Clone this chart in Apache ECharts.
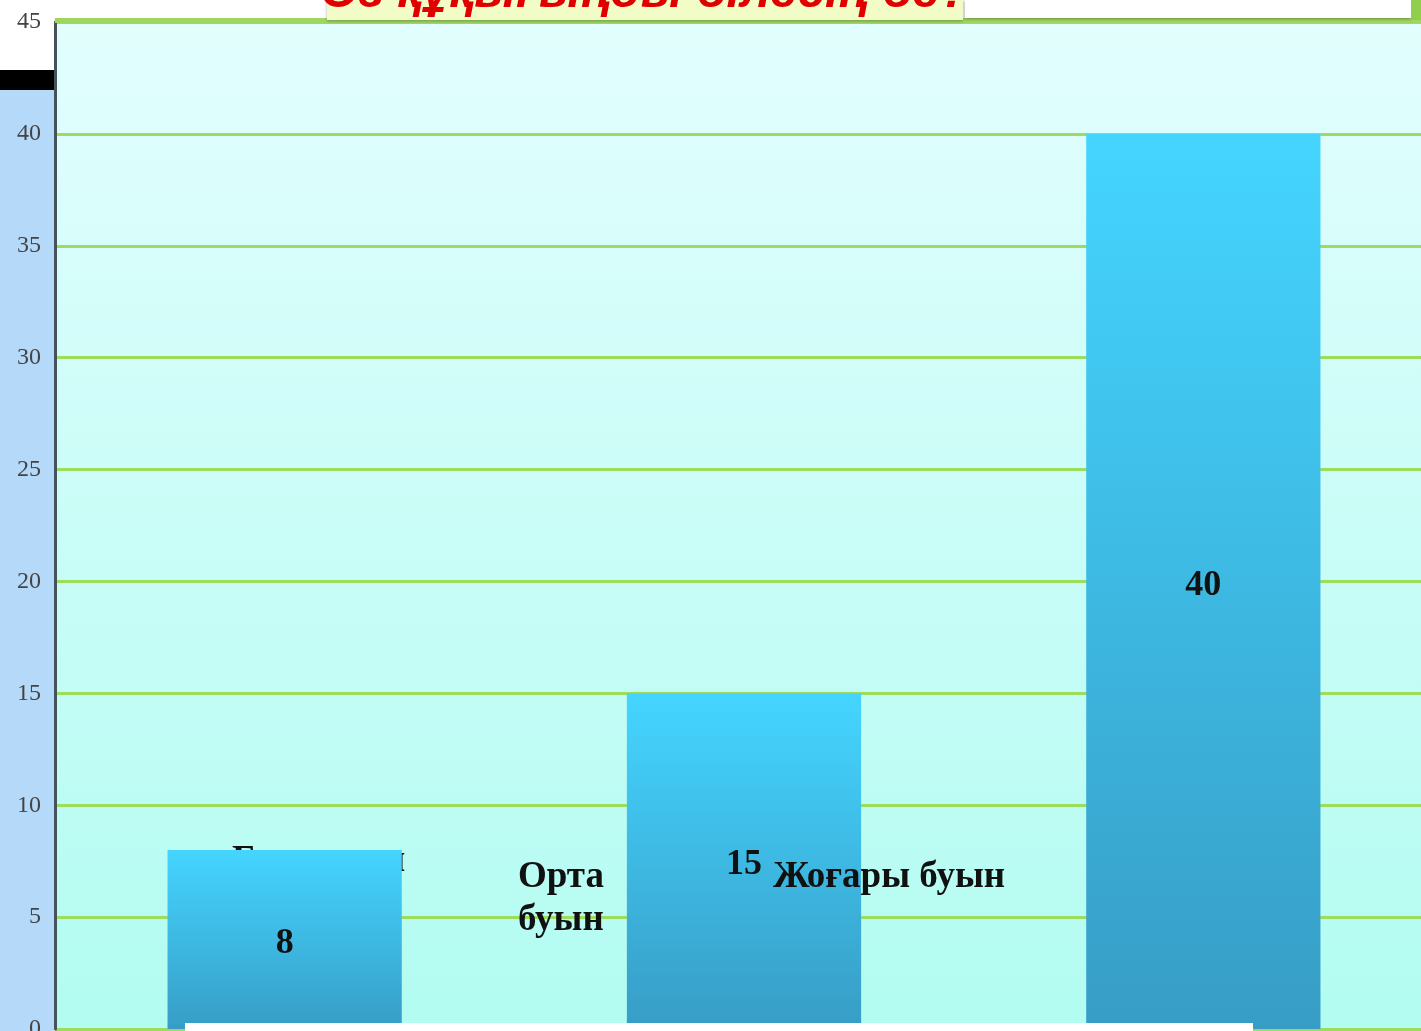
<!DOCTYPE html>
<html>
<head>
<meta charset="utf-8">
<script src="https://cdn.jsdelivr.net/npm/echarts@6/dist/echarts.min.js"></script>
<style>
html,body{margin:0;padding:0;background:#fff;}
#c{width:1421px;height:1031px;}
</style>
</head>
<body>
<div id="c"></div>
<script>
const titleText = 'Өз құқығыңды білесің бе?';
const categories = ['Бастауыш\nбуын', 'Орта\nбуын', 'Жоғары буын'];
const values = [8, 15, 40];
const yMin = 0, yMax = 45, yInterval = 5;

const chart = echarts.init(document.getElementById('c'));
const serifFamily = '"Liberation Serif", "DejaVu Serif", serif';
const serifBold = 'bold 37px "Liberation Serif", "DejaVu Serif", serif';

const option = {
  backgroundColor: '#ffffff',
  animation: false,
  grid: { left: 55, top: 22, width: 1378, height: 1007, outerBoundsMode: 'none', containLabel: false, show: false },
  xAxis: {
    type: 'category', data: categories,
    axisLine: { show: false }, axisTick: { show: false }, axisLabel: { show: false }, splitLine: { show: false }
  },
  yAxis: {
    type: 'value', min: yMin, max: yMax, interval: yInterval,
    axisLine: { show: true, lineStyle: { color: '#44545a', width: 3 } },
    axisTick: { show: false },
    axisLabel: { color: '#444', fontFamily: serifFamily, fontSize: 24, margin: 14 },
    splitLine: { show: true, lineStyle: { color: '#9edc5c', width: 3 } }
  },
  series: [{
    type: 'bar', data: values, barWidth: '51%', z: 5,
    itemStyle: {
      color: { type: 'linear', x: 0, y: 0, x2: 0, y2: 1, colorStops: [
        { offset: 0, color: '#44d5ff' }, { offset: 1, color: '#379dc6' } ] }
    },
    label: { show: true, position: 'inside', offset: [0, 4], color: '#111', fontFamily: serifFamily, fontSize: 36, fontWeight: 'bold' }
  }],
  graphic: [
    { type: 'rect', z: -10, shape: { x: 55, y: 22, width: 1366, height: 1009 },
      style: { fill: { type: 'linear', x: 0, y: 0, x2: 0, y2: 1, colorStops: [
        { offset: 0, color: '#e2fefe' }, { offset: 1, color: '#b2fcf1' } ] } } },
    { type: 'rect', z: -10, shape: { x: 0, y: 90, width: 54, height: 941 }, style: { fill: '#b5d9f8' } },
    { type: 'rect', z: -10, shape: { x: 0, y: 70, width: 55, height: 20 }, style: { fill: '#000000' } },
    { type: 'rect', z: 8, shape: { x: 55, y: 18, width: 1366, height: 5 }, style: { fill: '#9fd660' } },
    { type: 'rect', z: 9, shape: { x: 327, y: 0, width: 636, height: 20 },
      style: { fill: '#f1fcc6', shadowColor: 'rgba(0,0,0,0.3)', shadowBlur: 3, shadowOffsetY: 1 } },
    { type: 'text', z: 10, x: 645, y: 18,
      style: { text: titleText, font: 'italic bold 49px "Liberation Sans", Arial, sans-serif', fill: '#e00000',
        textAlign: 'center', textVerticalAlign: 'bottom' } },
    { type: 'rect', z: 9, shape: { x: 965, y: 0, width: 446, height: 18 },
      style: { fill: '#ffffff', shadowColor: 'rgba(0,0,0,0.35)', shadowBlur: 3, shadowOffsetY: 1 } },
    { type: 'rect', z: 9, shape: { x: 1411, y: 0, width: 10, height: 20 }, style: { fill: '#8fcf4c' } },
    { type: 'rect', z: 9, shape: { x: 185, y: 1023, width: 1068, height: 8 }, style: { fill: '#ffffff' } },
    { type: 'text', z: 1, x: 232, y: 840,
      style: { text: categories[0], font: serifBold, fill: '#111', lineHeight: 43 } },
    { type: 'text', z: 10, x: 518, y: 856,
      style: { text: categories[1], font: serifBold, fill: '#111', lineHeight: 43 } },
    { type: 'text', z: 10, x: 773, y: 856,
      style: { text: categories[2], font: serifBold, fill: '#111', lineHeight: 43 } }
  ]
};
chart.setOption(option);
</script>
</body>
</html>
